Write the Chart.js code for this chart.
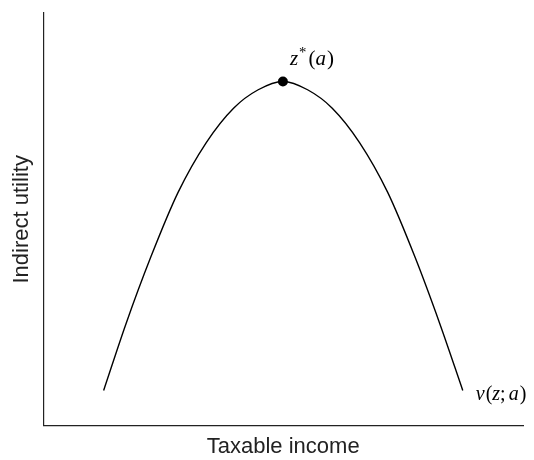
<!DOCTYPE html>
<html>
<head>
<meta charset="utf-8">
<script src="https://cdn.jsdelivr.net/npm/chart.js@4/dist/chart.umd.min.js"></script>
<style>
  html, body { margin: 0; padding: 0; background: #fff; }
  #wrap { width: 534px; height: 460px; }
</style>
</head>
<body>
<div id="wrap"><canvas id="utilityChart"></canvas></div>
<script>
// values (axis units 0..10 on both axes)
const incomeX = [1.256, 1.721, 2.235, 2.808, 3.396, 3.965, 4.479, 4.994,
                 5.508, 6.023, 6.592, 7.179, 7.752, 8.267, 8.744];
const utilityY = [0.853, 2.464, 4.072, 5.652, 6.860, 7.693, 8.140, 8.341,
                  8.140, 7.693, 6.860, 5.652, 4.072, 2.464, 0.853];
const peakX = [4.994];
const peakY = [8.341];
const xTitle = 'Taxable income';
const yTitle = 'Indirect utility';

const curve = incomeX.map((x, i) => ({ x: x, y: utilityY[i] }));
const peak = peakX.map((x, i) => ({ x: x, y: peakY[i] }));

// draws z*(a) by the optimum and v(z;a) at the end of the curve
function drawMath(ctx, x, y, parts, size) {
    ctx.textBaseline = 'alphabetic';
    ctx.textAlign = 'left';
    parts.forEach(p => {
        const s = p.sup ? size * 0.7 : size;
        ctx.font = (p.it ? 'italic ' : '') + s + 'px "Liberation Serif", serif';
        ctx.fillText(p.t, x, p.sup ? y - size * 0.4 : y);
        x += ctx.measureText(p.t).width + (p.gap || 0);
    });
}

const labelPlugin = {
    id: 'mathLabels',
    afterDatasetsDraw(chart) {
        const ctx = chart.ctx;
        const top = chart.getDatasetMeta(1).data[0];
        const line = chart.getDatasetMeta(0).data;
        const end = line[line.length - 1];
        ctx.save();
        ctx.fillStyle = '#000';
        drawMath(ctx, top.x + 7, top.y - 16, [
            { t: 'z', it: true, gap: 1 },
            { t: '*', sup: true, gap: 2 },
            { t: '(' },
            { t: 'a', it: true, gap: 1 },
            { t: ')' }
        ], 21);
        drawMath(ctx, end.x + 13, end.y + 10, [
            { t: 'v', it: true, gap: 1 },
            { t: '(' },
            { t: 'z', it: true },
            { t: ';', gap: 3 },
            { t: 'a', it: true, gap: 1 },
            { t: ')' }
        ], 20);
        ctx.restore();
    }
};

const ctx = document.getElementById('utilityChart').getContext('2d');
const utilityChart = new Chart(ctx, {
    type: 'line',
    data: {
        datasets: [{
            label: 'v(z;a)',
            data: curve,
            borderColor: '#000',
            borderWidth: 1.4,
            pointRadius: 0,
            fill: false,
            cubicInterpolationMode: 'monotone'
        }, {
            label: 'z*(a)',
            data: peak,
            showLine: false,
            pointRadius: 5,
            pointBackgroundColor: '#000',
            pointBorderColor: '#000',
            pointBorderWidth: 0
        }]
    },
    options: {
        responsive: true,
        maintainAspectRatio: false,
        animation: false,
        events: [],
        layout: {
            padding: { left: 4, right: 11, top: 13, bottom: 0 }
        },
        scales: {
            x: {
                type: 'linear',
                min: 0,
                max: 10,
                grid: { display: false, drawTicks: false },
                border: { display: true, color: '#222', width: 1.2 },
                ticks: { display: false },
                title: {
                    display: true,
                    text: xTitle,
                    color: '#222',
                    font: { family: '"Liberation Sans", Arial, sans-serif', size: 22 },
                    padding: { top: 8, bottom: 0 }
                }
            },
            y: {
                min: 0,
                max: 10,
                grid: { display: false, drawTicks: false },
                border: { display: true, color: '#222', width: 1.2 },
                ticks: { display: false },
                title: {
                    display: true,
                    text: yTitle,
                    color: '#222',
                    font: { family: '"Liberation Sans", Arial, sans-serif', size: 22 },
                    padding: { top: 5, bottom: 8 }
                }
            }
        },
        plugins: {
            legend: { display: false },
            tooltip: { enabled: false }
        }
    },
    plugins: [labelPlugin]
});
</script>
</body>
</html>
